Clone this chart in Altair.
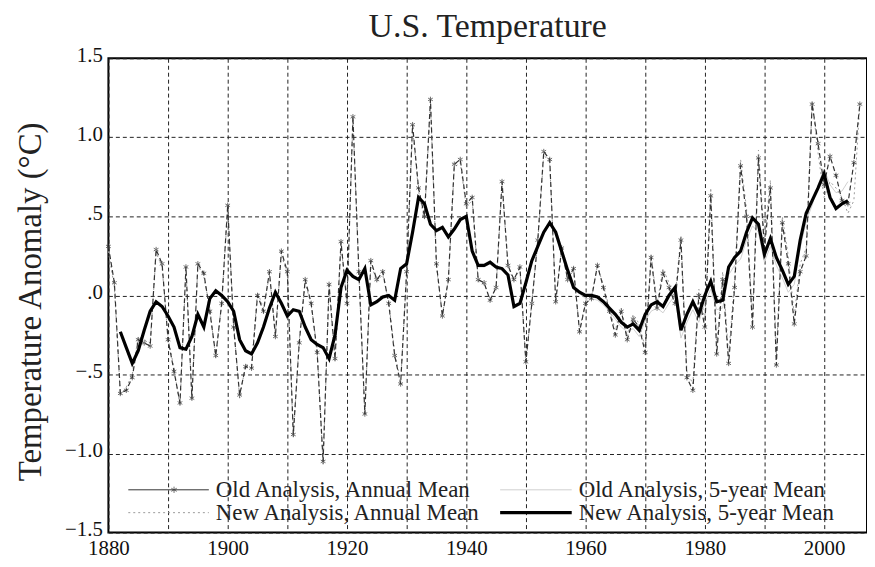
import altair as alt
import pandas as pd

# ---------------- data ----------------
years_annual = list(range(1880, 2007))
old_annual = [
    0.31, 0.08, -0.62, -0.60, -0.52, -0.28, -0.30, -0.32, 0.29, 0.20,     # 1880s
    -0.28, -0.48, -0.68, 0.18, -0.65, 0.20, 0.14, -0.10, -0.38, -0.05,    # 1890s
    0.57, -0.20, -0.63, -0.45, -0.46, 0.00, -0.10, 0.15, -0.26, 0.28,     # 1900s
    0.15, -0.88, -0.30, 0.10, -0.05, -0.36, -1.05, 0.07, -0.40, 0.34,     # 1910s
    -0.05, 1.13, 0.15, -0.75, 0.22, 0.10, 0.15, -0.05, -0.38, -0.56,      # 1920s
    0.15, 1.08, 0.68, 0.50, 1.24, 0.20, -0.13, 0.10, 0.83, 0.86,          # 1930s
    0.58, 0.62, 0.10, 0.08, -0.03, 0.05, 0.72, 0.19, 0.10, 0.18,          # 1940s
    -0.42, -0.05, 0.35, 0.91, 0.86, -0.04, 0.30, 0.10, 0.17, -0.23,       # 1950s
    -0.05, -0.02, 0.19, 0.05, -0.10, -0.25, -0.10, -0.28, -0.15, -0.20,   # 1960s
    -0.36, 0.24, -0.08, 0.14, 0.05, -0.05, 0.35, -0.52, -0.60, 0.00,      # 1970s
    -0.20, 0.63, -0.37, 0.10, -0.43, 0.05, 0.82, 0.50, -0.20, 0.87,       # 1980s
    0.30, 0.68, -0.44, 0.46, 0.20, -0.18, 0.15, 0.25, 1.21, 0.96,         # 1990s
    0.70, 0.88, 0.76, 0.60, 0.58, 0.84, 1.21,                             # 2000s
]
new_annual = [
    0.28, 0.05, -0.63, -0.58, -0.50, -0.26, -0.28, -0.30, 0.27, 0.18,
    -0.27, -0.46, -0.70, 0.16, -0.66, 0.19, 0.12, -0.08, -0.40, -0.04,
    0.55, -0.18, -0.65, -0.44, -0.44, 0.02, -0.08, 0.13, -0.24, 0.26,
    0.13, -0.90, -0.28, 0.08, -0.06, -0.34, -1.07, 0.05, -0.42, 0.32,
    -0.04, 1.11, 0.13, -0.76, 0.20, 0.09, 0.13, -0.04, -0.36, -0.55,
    0.13, 1.06, 0.66, 0.48, 1.22, 0.18, -0.12, 0.09, 0.81, 0.84,
    0.56, 0.60, 0.09, 0.07, -0.02, 0.04, 0.70, 0.18, 0.09, 0.17,
    -0.43, -0.04, 0.34, 0.89, 0.84, -0.03, 0.29, 0.10, 0.16, -0.22,
    -0.04, -0.01, 0.19, 0.06, -0.08, -0.22, -0.08, -0.26, -0.12, -0.18,
    -0.33, 0.26, -0.05, 0.17, 0.08, -0.02, 0.38, -0.48, -0.56, 0.04,
    -0.15, 0.68, -0.32, 0.15, -0.38, 0.10, 0.86, 0.55, -0.15, 0.92,
    0.35, 0.73, -0.38, 0.50, 0.25, -0.13, 0.20, 0.30, 1.23, 0.90,
    0.62, 0.72, 0.68, 0.62, 0.52, 0.60, 1.21,
]

years_5yr = list(range(1882, 2005))
new_5yr = [
    -0.23, -0.33, -0.43, -0.35, -0.22, -0.10, -0.04, -0.07,               # 1882-1889
    -0.13, -0.20, -0.33, -0.34, -0.26, -0.12, -0.20, -0.02, 0.03, 0.00,   # 1890s
    -0.04, -0.10, -0.28, -0.35, -0.37, -0.30, -0.20, -0.08, 0.02, -0.05,  # 1900s
    -0.13, -0.09, -0.10, -0.20, -0.28, -0.31, -0.33, -0.40, -0.25, 0.05,  # 1910s
    0.16, 0.12, 0.10, 0.17, -0.06, -0.04, -0.01, 0.00, -0.03, 0.17,       # 1920s
    0.20, 0.40, 0.62, 0.58, 0.45, 0.41, 0.43, 0.37, 0.42, 0.48,           # 1930s
    0.50, 0.28, 0.19, 0.19, 0.21, 0.18, 0.17, 0.13, -0.07, -0.05,         # 1940s
    0.08, 0.22, 0.31, 0.40, 0.46, 0.40, 0.28, 0.16, 0.05, 0.02,           # 1950s
    0.00, 0.00, -0.01, -0.04, -0.08, -0.12, -0.17, -0.20, -0.18, -0.22,   # 1960s
    -0.12, -0.06, -0.04, -0.07, 0.00, 0.05, -0.22, -0.12, -0.04, -0.12,   # 1970s
    0.00, 0.09, -0.04, -0.03, 0.18, 0.24, 0.28, 0.40, 0.49, 0.45,         # 1980s
    0.26, 0.36, 0.24, 0.16, 0.07, 0.12, 0.35, 0.52, 0.60, 0.68,           # 1990s
    0.77, 0.62, 0.55, 0.58, 0.60,                                         # 2000-2004
]
old_5yr = [
    -0.24, -0.34, -0.44, -0.36, -0.23, -0.11, -0.05, -0.08,
    -0.14, -0.21, -0.34, -0.35, -0.27, -0.13, -0.21, -0.03, 0.02, -0.01,
    -0.05, -0.11, -0.29, -0.36, -0.38, -0.31, -0.21, -0.09, 0.01, -0.06,
    -0.14, -0.10, -0.11, -0.21, -0.29, -0.32, -0.34, -0.41, -0.26, 0.04,
    0.15, 0.11, 0.09, 0.16, -0.07, -0.05, -0.02, -0.01, -0.04, 0.16,
    0.19, 0.39, 0.61, 0.57, 0.44, 0.40, 0.42, 0.36, 0.41, 0.47,
    0.49, 0.27, 0.18, 0.18, 0.20, 0.17, 0.16, 0.12, -0.08, -0.06,
    0.07, 0.21, 0.30, 0.39, 0.45, 0.39, 0.27, 0.15, 0.04, 0.01,
    -0.02, -0.02, -0.03, -0.06, -0.10, -0.15, -0.20, -0.23, -0.21, -0.26,
    -0.16, -0.10, -0.08, -0.11, -0.05, 0.00, -0.27, -0.17, -0.09, -0.17,
    -0.05, 0.04, -0.09, -0.08, 0.13, 0.19, 0.23, 0.35, 0.44, 0.40,
    0.21, 0.31, 0.19, 0.11, 0.02, 0.07, 0.30, 0.47, 0.57, 0.70,
    0.80, 0.70, 0.65, 0.66, 0.72,
]

legend_labels = [
    "Old Analysis, Annual Mean",
    "Old Analysis, 5-year Mean",
    "New Analysis, Annual Mean",
    "New Analysis, 5-year Mean",
]

annual_old_df = pd.DataFrame({"year": years_annual, "value": old_annual})
annual_new_df = pd.DataFrame({"year": years_annual, "value": new_annual})
five_new_df = pd.DataFrame({"year": years_5yr, "value": new_5yr})
five_old_df = pd.DataFrame({"year": years_5yr, "value": old_5yr})

SERIF = "Liberation Serif"
W, H = 763, 477

xscale = alt.Scale(domain=[1880, 2007.2], nice=False, zero=False)
yscale = alt.Scale(domain=[-1.5, 1.5], nice=False, zero=False)

x_axis = alt.Axis(
    values=list(range(1880, 2010, 10)),
    labelExpr="datum.value % 20 == 0 ? format(datum.value, 'd') : ''",
    grid=True, gridDash=[4, 3], gridColor="#222", gridWidth=1,
    ticks=False, domain=False, labelFlush=False, labelOverlap=False,
    labelFont=SERIF, labelFontSize=21, labelColor="#111", labelPadding=5,
    title=None,
)
y_axis = alt.Axis(
    values=[-1.5, -1.0, -0.5, 0.0, 0.5, 1.0, 1.5],
    labelExpr="replace(format(datum.value, '.1f'), '0.', '.')",
    grid=True, gridDash=[4, 3], gridColor="#222", gridWidth=1,
    ticks=False, domain=False, labelFlush=False, labelOverlap=False,
    labelFont=SERIF, labelFontSize=21, labelColor="#111", labelPadding=6,
    labelOffset=-3,
    title="Temperature Anomaly (°C)", titleFont=SERIF, titleFontSize=33,
    titleFontWeight="normal", titleColor="#222",
    titleX=-78, titleY=H / 2 + 6, titleAngle=270, titleAlign="center", titleBaseline="middle",
)

X = alt.X("year:Q", scale=xscale, axis=x_axis)
Y = alt.Y("value:Q", scale=yscale, axis=y_axis)

asterisk = "M0,-1L0,1M-0.87,-0.5L0.87,0.5M-0.87,0.5L0.87,-0.5"

old5 = alt.Chart(five_old_df).mark_line(color="#d0d0d0", strokeWidth=1).encode(x=X, y=Y)
newann = alt.Chart(annual_new_df).mark_line(
    color="#9a9a9a", strokeWidth=1, strokeDash=[2, 3]).encode(x=X, y=Y)
oldann = alt.Chart(annual_old_df).mark_line(
    color="#333", strokeWidth=1.2, strokeDash=[5, 3]).encode(x=X, y=Y)
oldpts = alt.Chart(annual_old_df).mark_point(
    shape=asterisk, size=30, color="#333", strokeWidth=1, filled=False).encode(x=X, y=Y)
new5 = alt.Chart(five_new_df).mark_line(color="#000", strokeWidth=3.2).encode(x=X, y=Y)

# ---------------- hand-built legend inside the plot ----------------
one = alt.Data(values=[{"k": 0}])
row1, row2 = 434, 457
leg_font = dict(font=SERIF, fontSize=23, color="#222", align="left", baseline="middle")

leg = [
    alt.Chart(one).mark_rule(color="#333", strokeWidth=1).encode(
        x=alt.value(20), x2=alt.value(101), y=alt.value(row1)),
    alt.Chart(one).mark_point(shape=asterisk, size=40, color="#333", filled=False, strokeWidth=1).encode(
        x=alt.value(66), y=alt.value(row1)),
    alt.Chart(one).mark_text(**leg_font).encode(
        x=alt.value(108), y=alt.value(row1), text=alt.value(legend_labels[0])),
    alt.Chart(one).mark_rule(color="#d0d0d0", strokeWidth=1).encode(
        x=alt.value(394), x2=alt.value(466), y=alt.value(row1)),
    alt.Chart(one).mark_text(**leg_font).encode(
        x=alt.value(473), y=alt.value(row1), text=alt.value(legend_labels[1])),
    alt.Chart(one).mark_rule(color="#9a9a9a", strokeWidth=1, strokeDash=[2, 3]).encode(
        x=alt.value(20), x2=alt.value(101), y=alt.value(row2)),
    alt.Chart(one).mark_text(**leg_font).encode(
        x=alt.value(108), y=alt.value(row2), text=alt.value(legend_labels[2])),
    alt.Chart(one).mark_rule(color="#000", strokeWidth=3.2).encode(
        x=alt.value(394), x2=alt.value(466), y=alt.value(row2)),
    alt.Chart(one).mark_text(**leg_font).encode(
        x=alt.value(473), y=alt.value(row2), text=alt.value(legend_labels[3])),
]

chart = alt.layer(old5, newann, oldann, oldpts, new5, *leg).properties(
    width=W, height=H, background="white",
    title=alt.TitleParams("U.S. Temperature", font=SERIF, fontSize=34,
                          fontWeight="normal", color="#222", anchor="middle", offset=0),
    autosize=alt.AutoSizeParams(type="none"),
    padding={"left": 101, "top": 49, "right": 0, "bottom": 25},
).configure_view(stroke="#000", strokeWidth=2)

chart.save("out.html", embed_options={"renderer": "svg", "actions": False})
